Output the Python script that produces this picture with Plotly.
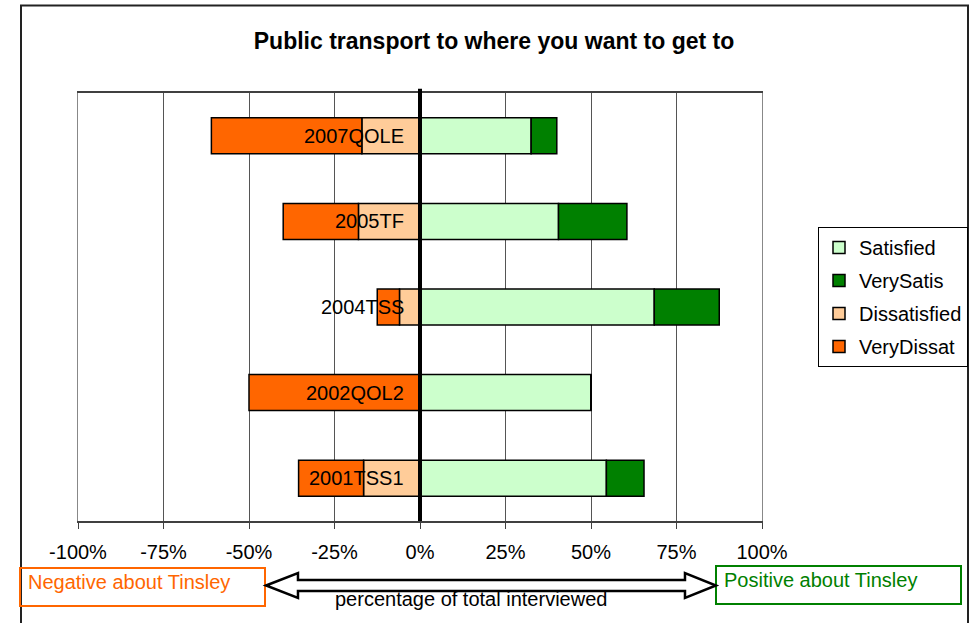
import plotly.graph_objects as go

# survey categories, bottom to top
categories = ["2001TSS1", "2002QOL2", "2004TSS", "2005TF", "2007QOLE"]

# percentages of total interviewed
satisfied = [54.5, 50.0, 68.5, 40.5, 32.5]
very_satis = [11.0, 0.0, 19.0, 20.0, 7.5]
dissatisfied = [16.5, 0.0, 6.0, 18.0, 17.0]
very_dissat = [19.0, 50.0, 6.5, 22.0, 44.0]

tick_vals = [-100, -75, -50, -25, 0, 25, 50, 75, 100]
tick_text = ["-100%", "-75%", "-50%", "-25%", "0%", "25%", "50%", "75%", "100%"]

W, H = 979, 623
L, R, T, B = 78, 217, 93, 102
FONT = "Liberation Sans, Arial, sans-serif"


def px(x):
    # pixel x -> paper x
    return (x - L) / (W - L - R)


def py(y):
    # pixel y -> paper y
    return (H - B - y) / (H - T - B)


series = [
    ("Satisfied", satisfied, "#CCFFCC", 1),
    ("VerySatis", very_satis, "#008000", 1),
    ("Dissatisfied", dissatisfied, "#FFCC99", -1),
    ("VeryDissat", very_dissat, "#FF6600", -1),
]

fig = go.Figure()
for name, vals, color, sign in series:
    fig.add_trace(
        go.Bar(
            y=categories,
            x=[sign * v for v in vals],
            orientation="h",
            name=name,
            legendgroup=name,
            marker=dict(color=color, line=dict(color="black", width=1.5)),
        )
    )

# category labels sit just left of the zero line
for cat in categories:
    fig.add_annotation(
        x=0, y=cat, xref="x", yref="y", text=cat, showarrow=False,
        xanchor="right", xshift=-14, font=dict(size=20, color="black", family=FONT),
    )

shapes = [
    # thick zero line
    dict(type="line", xref="x", yref="paper", x0=0, x1=0, y0=0, y1=1.01,
         line=dict(color="black", width=4), layer="above"),
    # outer chart frame
    dict(type="rect", xref="paper", yref="paper", x0=px(21), x1=px(968),
         y0=py(640), y1=py(5.5), line=dict(color="#222", width=2), layer="below"),
    # caption boxes
    dict(type="rect", xref="paper", yref="paper", x0=px(20), x1=px(265),
         y0=py(606), y1=py(568), line=dict(color="#FF6600", width=2)),
    dict(type="rect", xref="paper", yref="paper", x0=px(716), x1=px(961),
         y0=py(604), y1=py(566), line=dict(color="#008000", width=2)),
]

# hollow double-headed arrow
pts = [(266, 585.5), (298, 573), (298, 580), (685, 580), (685, 573), (716, 585.5),
       (685, 598), (685, 591), (298, 591), (298, 598)]
path = "M " + " L ".join(f"{px(a):.4f},{py(b):.4f}" for a, b in pts) + " Z"
shapes.append(dict(type="path", xref="paper", yref="paper", path=path,
                   fillcolor="white", line=dict(color="black", width=2.5)))

fig.update_layout(
    width=W,
    height=H,
    barmode="relative",
    bargap=0.58,
    paper_bgcolor="white",
    plot_bgcolor="white",
    margin=dict(l=L, r=R, t=T, b=B, autoexpand=False),
    font=dict(family=FONT, size=20, color="black"),
    title=dict(
        text="<b>Public transport to where you want to get to</b>",
        x=494 / W, xanchor="center", xref="container",
        y=1 - 41 / H, yanchor="middle", yref="container",
        font=dict(size=23, family=FONT, color="black"),
    ),
    legend=dict(
        x=px(968), y=py(227), xanchor="right", yanchor="top",
        bordercolor="black", borderwidth=1, bgcolor="white",
        font=dict(size=20, family=FONT), tracegroupgap=4, traceorder="grouped",
    ),
    shapes=shapes,
    showlegend=True,
)

fig.update_xaxes(
    range=[-100, 100],
    tickvals=tick_vals,
    ticktext=tick_text,
    showgrid=True,
    gridcolor="#555555",
    gridwidth=1,
    zeroline=False,
    showline=True,
    linecolor="#404040",
    linewidth=1.5,
    mirror=True,
    ticks="outside",
    ticklen=6,
    tickcolor="#404040",
    ticklabelstandoff=6,
    tickfont=dict(size=20, family=FONT),
    fixedrange=True,
)
fig.update_yaxes(
    range=[-0.5, 4.5],
    showticklabels=False,
    showgrid=False,
    showline=True,
    linecolor="#888888",
    mirror=True,
    fixedrange=True,
)

# bottom captions
fig.add_annotation(
    x=px(26), y=py(582), xref="paper", yref="paper", xanchor="left", yanchor="middle",
    text="Negative about Tinsley", showarrow=False,
    font=dict(size=20, color="#FF6600", family=FONT),
)
fig.add_annotation(
    x=px(722), y=py(580), xref="paper", yref="paper", xanchor="left", yanchor="middle",
    text="Positive about Tinsley", showarrow=False,
    font=dict(size=20, color="#008000", family=FONT),
)
fig.add_annotation(
    x=px(471), y=py(599), xref="paper", yref="paper", xanchor="center", yanchor="middle",
    text="percentage of total interviewed", showarrow=False,
    font=dict(size=20, color="black", family=FONT),
)

fig.write_html(
    "out.html",
    config={"displayModeBar": False},
    post_script="document.body.style.margin='0';",
)
